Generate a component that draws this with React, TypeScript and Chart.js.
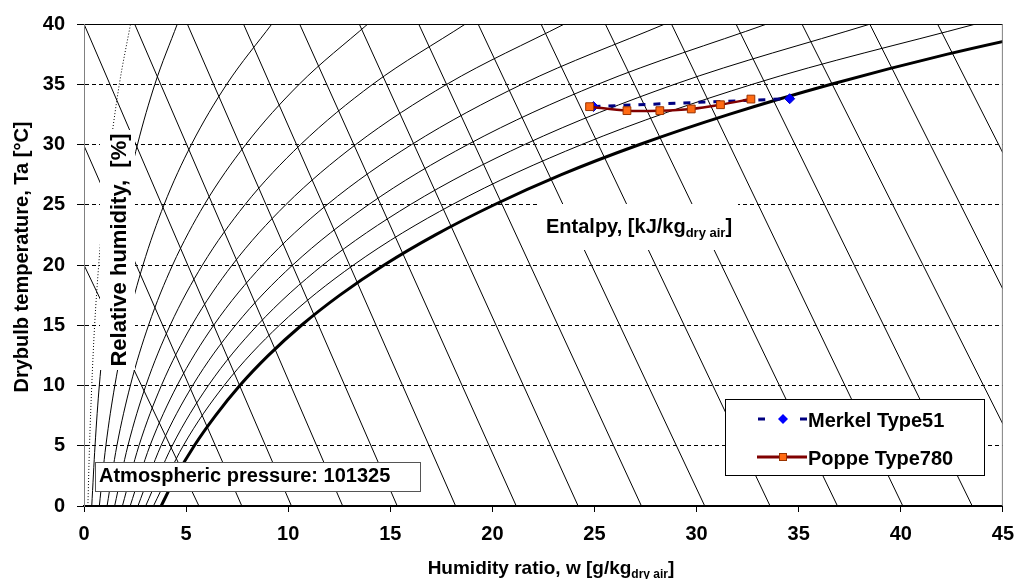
import React, { useEffect, useRef } from "react";
import { Chart, registerables } from "chart.js";

Chart.register(...registerables);

const FONT = '"Liberation Sans", Arial, Helvetica, sans-serif';

// Relative-humidity curves: humidity ratio w [g/kg dry air] read at each drybulb temperature
const rhTemps = [0, 5, 10, 15, 20, 25, 30, 35, 40];
const rh05 = [0.19, 0.27, 0.38, 0.52, 0.72, 0.97, 1.31, 1.73, 2.28];
const rh10 = [0.38, 0.54, 0.75, 1.05, 1.44, 1.95, 2.62, 3.47, 4.57];
const rh20 = [0.75, 1.07, 1.51, 2.1, 2.89, 3.92, 5.26, 6.99, 9.2];
const rh30 = [1.13, 1.61, 2.27, 3.16, 4.34, 5.89, 7.92, 10.54, 13.9];
const rh40 = [1.5, 2.15, 3.03, 4.22, 5.8, 7.88, 10.61, 14.14, 18.68];
const rh50 = [1.88, 2.69, 3.79, 5.28, 7.26, 9.88, 13.31, 17.77, 23.53];
const rh60 = [2.26, 3.23, 4.56, 6.35, 8.74, 11.9, 16.05, 21.45, 28.45];
const rh70 = [2.64, 3.77, 5.32, 7.42, 10.22, 13.93, 18.8, 25.17, 33.44];
const rh80 = [3.02, 4.32, 6.09, 8.49, 11.7, 15.97, 21.58, 28.93, 38.51];
const rh90 = [3.4, 4.86, 6.86, 9.57, 13.2, 18.02, 24.38, 32.74, 43.67];

// Saturation curve (100 %)
const satTemps = [0, 2.5, 5, 7.5, 10, 12.5, 15, 17.5, 20, 22.5, 25, 27.5, 30, 32.5, 35, 37.5, 40];
const rh100 = [3.78, 4.52, 5.4, 6.44, 7.63, 9.03, 10.65, 12.53, 14.7, 17.21, 20.09, 23.38, 27.21, 31.59, 36.59, 42.29, 48.9];

// Enthalpy lines (straight), start and end points
const hStartW = [0, 0, 0, 2.48, 5.06, 7.81, 10.56, 13.48, 16.39, 19.3, 22.38, 25.53, 28.77, 31.93, 35.16, 38.48, 41.8];
const hStartT = [20, 29.9, 40, 40, 40, 40, 40, 40, 40, 40, 40, 40, 40, 40, 40, 40, 40];
const hEndW = [5.63, 7.73, 10.16, 12.67, 15.34, 18.2, 21.17, 24.2, 27.3, 30.4, 33.6, 36.9, 40.1, 43.5, 45, 45, 45];
const hEndT = [0, 0, 0, 0, 0, 0, 0, 0, 0, 0, 0, 0, 0, 0, 6.8, 18, 29.3];

// Measured series
const merkelW = [24.95, 34.56];
const merkelT = [33.15, 33.8];
const poppeW = [24.76, 26.59, 28.2, 29.74, 31.17, 32.66];
const poppeT = [33.14, 32.81, 32.81, 32.95, 33.3, 33.77];

// Axis ticks
const xTickValues = [0, 5, 10, 15, 20, 25, 30, 35, 40, 45];
const yTickValues = [0, 5, 10, 15, 20, 25, 30, 35, 40];

const toPts = (xs: number[], ys: number[]) => xs.map((x, i) => ({ x, y: ys[i] }));

function drawRich(ctx: CanvasRenderingContext2D, parts: { t: string; sub?: boolean }[], x: number, y: number, align: "left" | "center", size: number) {
  const big = `bold ${size}px ${FONT}`;
  const small = `bold ${Math.round(size * 0.65)}px ${FONT}`;
  let total = 0;
  parts.forEach((p) => {
    ctx.font = p.sub ? small : big;
    total += ctx.measureText(p.t).width;
  });
  let cx = align === "center" ? x - total / 2 : x;
  ctx.textAlign = "left";
  ctx.textBaseline = "alphabetic";
  parts.forEach((p) => {
    ctx.font = p.sub ? small : big;
    ctx.fillText(p.t, cx, p.sub ? y + Math.round(size * 0.22) : y);
    cx += ctx.measureText(p.t).width;
  });
}

const overlayPlugin = {
  id: "overlay",
  afterDatasetsDraw(chart: any) {
    const ctx: CanvasRenderingContext2D = chart.ctx;
    const ca = chart.chartArea;
    ctx.save();
    ctx.setLineDash([]);

    // plot border top / right / left
    ctx.lineWidth = 1;
    ctx.strokeStyle = "#000";
    ctx.beginPath();
    ctx.moveTo(ca.left, ca.top + 0.5);
    ctx.lineTo(ca.right, ca.top + 0.5);
    ctx.stroke();
    ctx.strokeStyle = "#808080";
    ctx.beginPath();
    ctx.moveTo(ca.right - 0.5, ca.top);
    ctx.lineTo(ca.right - 0.5, ca.bottom);
    ctx.moveTo(ca.left + 0.5, ca.top);
    ctx.lineTo(ca.left + 0.5, ca.bottom);
    ctx.stroke();

    ctx.fillStyle = "#000";

    // Relative humidity label
    ctx.save();
    ctx.fillStyle = "#fff";
    ctx.fillRect(100, 130, 35, 240);
    ctx.translate(126, 250);
    ctx.rotate(-Math.PI / 2);
    ctx.fillStyle = "#000";
    ctx.font = `bold 22px ${FONT}`;
    ctx.textAlign = "center";
    ctx.textBaseline = "alphabetic";
    ctx.fillText("Relative humidity,  [%]", 0, 0);
    ctx.restore();

    // Enthalpy label
    ctx.fillStyle = "#fff";
    ctx.fillRect(540, 204, 198, 46);
    ctx.fillStyle = "#000";
    drawRich(ctx, [{ t: "Entalpy, [kJ/kg" }, { t: "dry air", sub: true }, { t: "]" }], 546, 233, "left", 20);

    // Atmospheric pressure box
    ctx.fillStyle = "#fff";
    ctx.fillRect(95, 462, 326, 30);
    ctx.strokeStyle = "#555";
    ctx.lineWidth = 1;
    ctx.strokeRect(95.5, 462.5, 325, 29);
    ctx.fillStyle = "#000";
    drawRich(ctx, [{ t: "Atmospheric pressure: 101325" }], 99, 482, "left", 20);

    // Legend
    ctx.fillStyle = "#fff";
    ctx.fillRect(725, 399, 260, 77);
    ctx.strokeStyle = "#000";
    ctx.strokeRect(725.5, 399.5, 259, 76);
    const ds = chart.data.datasets;
    const merkel = ds.find((d: any) => d.label === "Merkel Type51");
    const poppe = ds.find((d: any) => d.label === "Poppe Type780");
    // Merkel symbol
    let y = 419;
    ctx.strokeStyle = merkel.borderColor;
    ctx.lineWidth = 3;
    ctx.beginPath();
    ctx.moveTo(758, y); ctx.lineTo(765, y);
    ctx.moveTo(800, y); ctx.lineTo(807, y);
    ctx.stroke();
    ctx.fillStyle = merkel.pointBackgroundColor;
    ctx.beginPath();
    ctx.moveTo(783, y - 5); ctx.lineTo(788, y); ctx.lineTo(783, y + 5); ctx.lineTo(778, y);
    ctx.closePath();
    ctx.fill();
    ctx.fillStyle = "#000";
    drawRich(ctx, [{ t: merkel.label }], 808, 427, "left", 20);
    // Poppe symbol
    y = 457;
    ctx.strokeStyle = poppe.borderColor;
    ctx.lineWidth = 3;
    ctx.beginPath();
    ctx.moveTo(757, y); ctx.lineTo(807, y);
    ctx.stroke();
    ctx.fillStyle = poppe.pointBackgroundColor;
    ctx.fillRect(779, y - 4, 8, 8);
    ctx.strokeStyle = poppe.pointBorderColor;
    ctx.lineWidth = 1;
    ctx.strokeRect(779.5, y - 3.5, 7, 7);
    ctx.fillStyle = "#000";
    drawRich(ctx, [{ t: poppe.label }], 808, 465, "left", 20);

    ctx.restore();
  },
  afterDraw(chart: any) {
    const ctx: CanvasRenderingContext2D = chart.ctx;
    ctx.save();
    ctx.fillStyle = "#000";
    drawRich(ctx, [{ t: "Humidity ratio, w [g/kg" }, { t: "dry air", sub: true }, { t: "]" }], 551, 574, "center", 19);
    ctx.translate(28, 257);
    ctx.rotate(-Math.PI / 2);
    ctx.font = `bold 20px ${FONT}`;
    ctx.textAlign = "center";
    ctx.textBaseline = "alphabetic";
    ctx.fillText("Drybulb temperature, Ta [°C]", 0, 0);
    ctx.restore();
  },
};

export default function App() {
  const ref = useRef<HTMLCanvasElement>(null);

  useEffect(() => {
    const canvas = ref.current;
    if (!canvas) return;

    const rhCurves = [
      { label: "5%", w: rh05, dash: [1, 2] },
      { label: "10%", w: rh10, dash: [] },
      { label: "20%", w: rh20, dash: [] },
      { label: "30%", w: rh30, dash: [] },
      { label: "40%", w: rh40, dash: [] },
      { label: "50%", w: rh50, dash: [] },
      { label: "60%", w: rh60, dash: [] },
      { label: "70%", w: rh70, dash: [] },
      { label: "80%", w: rh80, dash: [] },
      { label: "90%", w: rh90, dash: [] },
    ];

    const datasets: any[] = [];
    datasets.push({
      label: "Poppe Type780",
      data: toPts(poppeW, poppeT),
      borderColor: "#800000",
      borderWidth: 2.5,
      tension: 0.3,
      pointStyle: "rect",
      pointRadius: 5.5,
      pointBackgroundColor: "#FF6A13",
      pointBorderColor: "#993300",
      pointBorderWidth: 1,
      clip: 0,
    });
    datasets.push({
      label: "Merkel Type51",
      data: toPts(merkelW, merkelT),
      borderColor: "#000080",
      borderWidth: 3,
      borderDash: [7, 8],
      pointStyle: "rectRot",
      pointRadius: 5,
      pointBackgroundColor: "#0000FF",
      pointBorderColor: "#0000CC",
      pointBorderWidth: 1,
      clip: 0,
    });
    datasets.push({
      label: "100%",
      data: toPts(rh100, satTemps),
      borderColor: "#000",
      borderWidth: 3,
      pointRadius: 0,
      cubicInterpolationMode: "monotone",
      clip: 0,
    });
    rhCurves.forEach((c) => {
      datasets.push({
        label: c.label,
        data: toPts(c.w, rhTemps),
        borderColor: "#000",
        borderWidth: 1,
        borderDash: c.dash,
        pointRadius: 0,
        cubicInterpolationMode: "monotone",
        clip: 0,
      });
    });
    hStartW.forEach((_, i) => {
      datasets.push({
        label: `h${i}`,
        data: [
          { x: hStartW[i], y: hStartT[i] },
          { x: hEndW[i], y: hEndT[i] },
        ],
        borderColor: "#000",
        borderWidth: 1,
        pointRadius: 0,
        tension: 0,
        clip: 0,
      });
    });

    const chart = new Chart(canvas, {
      type: "line",
      data: { datasets },
      plugins: [overlayPlugin],
      options: {
        animation: false,
        responsive: false,
        events: [],
        layout: { padding: { top: 19, right: 13, left: 0, bottom: 0 } },
        plugins: {
          legend: { display: false },
          tooltip: { enabled: false },
          title: { display: false },
        },
        scales: {
          x: {
            type: "linear",
            min: 0,
            max: 45,
            afterBuildTicks: (s: any) => {
              s.ticks = xTickValues.map((v) => ({ value: v }));
            },
            afterFit: (s: any) => {
              s.height = 73;
            },
            grid: {
              drawOnChartArea: false,
              drawTicks: true,
              tickLength: 6,
              tickColor: "#000",
              tickWidth: 1,
            },
            border: { display: true, color: "#000", width: 2 },
            ticks: {
              color: "#000",
              padding: 10,
              maxRotation: 0,
              autoSkip: false,
              font: { family: FONT, size: 20, weight: "bold" },
            },
          },
          y: {
            type: "linear",
            min: 0,
            max: 40,
            afterBuildTicks: (s: any) => {
              s.ticks = yTickValues.map((v) => ({ value: v }));
            },
            afterFit: (s: any) => {
              s.width = 84;
            },
            grid: {
              drawOnChartArea: true,
              drawTicks: true,
              tickLength: 7,
              tickColor: "#000",
              tickWidth: 1,
              tickBorderDash: [],
              lineWidth: 1,
              color: (c: any) =>
                c.tick && (c.tick.value === 0 || c.tick.value === 40) ? "rgba(0,0,0,0)" : "#000",
            },
            border: { display: true, color: "#808080", width: 1, dash: [4, 3] },
            ticks: {
              color: "#000",
              padding: 12,
              autoSkip: false,
              font: { family: FONT, size: 20, weight: "bold" },
            },
          },
        },
      } as any,
    });

    return () => chart.destroy();
  }, []);

  return (
    <div style={{ position: "fixed", left: 0, top: 0, width: 1024, height: 579, background: "#fff" }}>
      <canvas ref={ref} width={1024} height={579} style={{ width: 1024, height: 579, display: "block" }} />
    </div>
  );
}
